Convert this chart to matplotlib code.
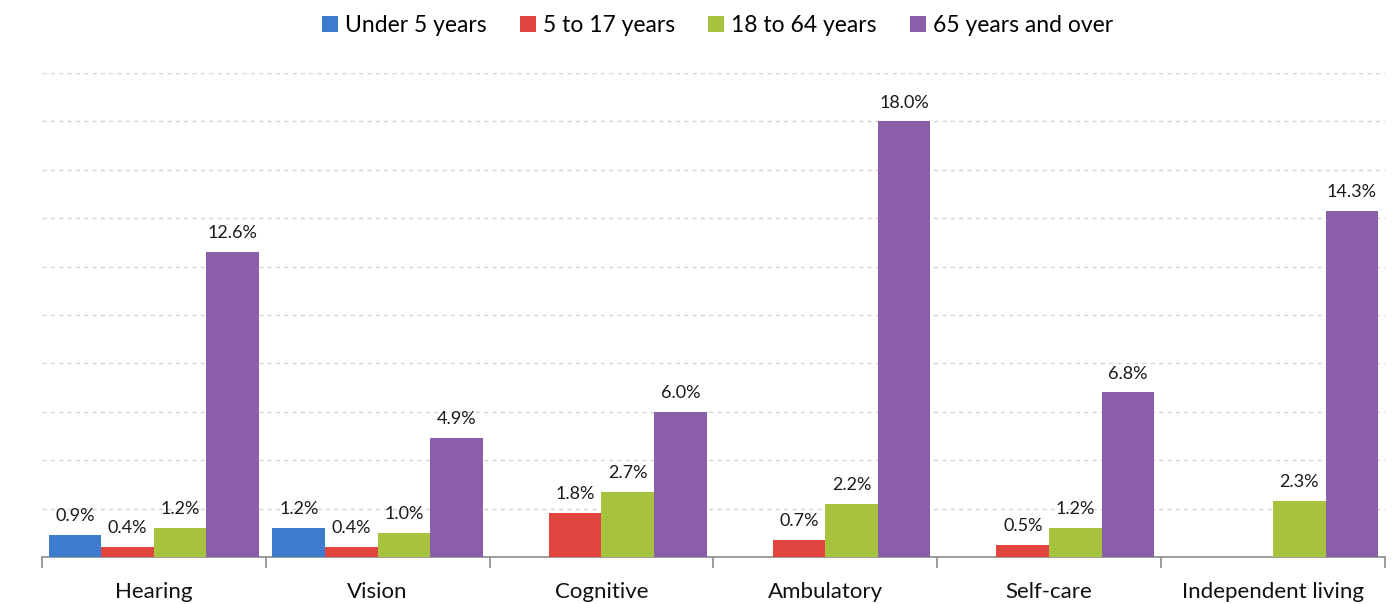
import numpy as np
import matplotlib
matplotlib.use("Agg")
import matplotlib.pyplot as plt
from matplotlib.patches import Patch

categories = ["Hearing", "Vision", "Cognitive", "Ambulatory", "Self-care", "Independent living"]
series_names = ["Under 5 years", "5 to 17 years", "18 to 64 years", "65 years and over"]
under_5 = [0.9, 1.2, np.nan, np.nan, np.nan, np.nan]
age_5_17 = [0.4, 0.4, 1.8, 0.7, 0.5, np.nan]
age_18_64 = [1.2, 1.0, 2.7, 2.2, 1.2, 2.3]
age_65_over = [12.6, 4.9, 6.0, 18.0, 6.8, 14.3]

colors = ["#3d7ccc", "#e0463f", "#a7c23c", "#8a5ea8"]

plt.rcParams['font.family'] = ['Lato', 'DejaVu Sans']

fig = plt.figure(figsize=(13.96, 6.04), dpi=100)
ax = fig.add_axes([0.030, 0.078, 0.962, 0.801])

x = np.arange(len(categories))
width = 0.235
series = [under_5, age_5_17, age_18_64, age_65_over]

for i, (vals, color) in enumerate(zip(series, colors)):
    offset = (i - 1.5) * width
    vals = np.array(vals, dtype=float)
    mask = ~np.isnan(vals)
    ax.bar(x[mask] + offset, vals[mask], width, color=color, zorder=3)
    for xi, v in zip(x[mask] + offset, vals[mask]):
        ax.text(xi, v + 0.45, f"{v:.1f}%", ha='center', va='bottom', fontsize=13, color='#1a1a1a')

ax.set_xlim(-0.5, len(categories) - 0.5)
ax.set_ylim(0, 20)

# dashed background grid every 2%
for g in np.arange(2, 21, 2):
    ax.axhline(g, color='#d2d2d2', linestyle=(0, (3, 3)), linewidth=1.0, zorder=1)

for s in ['top', 'right', 'left']:
    ax.spines[s].set_visible(False)
ax.spines['bottom'].set_color('#8a8a8a')
ax.spines['bottom'].set_linewidth(1.2)
ax.set_yticks([])

ax.set_xticks(np.arange(-0.5, len(categories), 1.0), minor=False)
ax.set_xticklabels([])
ax.tick_params(axis='x', which='major', length=8, color='#8a8a8a', width=1.2)
ax.set_xticks(x, minor=True)
ax.set_xticklabels(categories, minor=True, fontsize=16, color='#111111')
ax.tick_params(axis='x', which='minor', length=0, pad=18)

handles = [Patch(facecolor=c, label=n) for c, n in zip(colors, series_names)]
fig.legend(handles=handles, loc='upper center', bbox_to_anchor=(0.514, 1.01), ncol=4,
           frameon=False, fontsize=16.5, handlelength=0.7, handleheight=0.7,
           handletextpad=0.3, columnspacing=1.45)

fig.savefig("out.png", dpi=100)
